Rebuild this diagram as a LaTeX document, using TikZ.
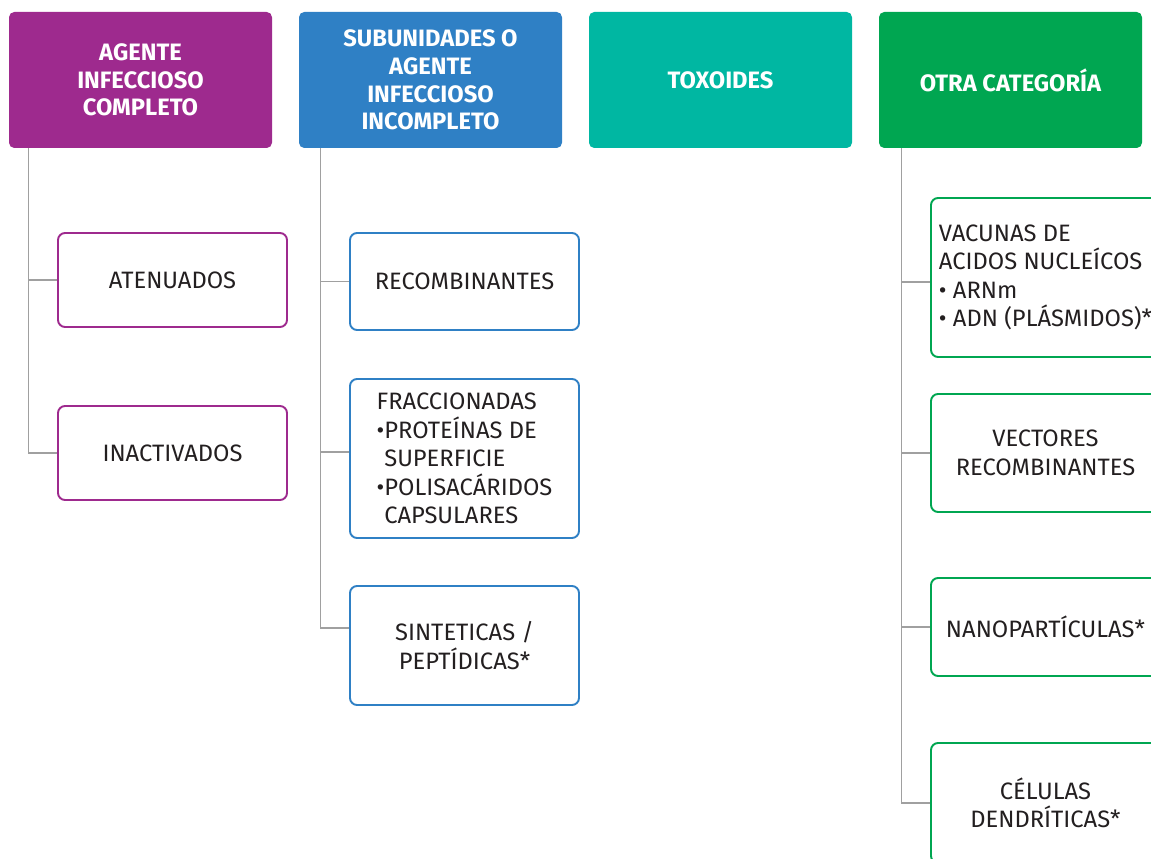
\documentclass[tikz,border=0pt]{standalone}
\usepackage{fontspec}
\setmainfont{Fira Sans}
\usepackage{tikz}
\usetikzlibrary{positioning}

\definecolor{purp}{HTML}{9E2A8E}
\definecolor{blu}{HTML}{2F80C5}
\definecolor{turq}{HTML}{00B7A2}
\definecolor{grn}{HTML}{00A651}
\definecolor{ink}{HTML}{231F20}
\definecolor{linegray}{HTML}{A0A0A0}

\tikzset{
  head/.style={rectangle, rounded corners=3pt, minimum width=5.26cm, minimum height=2.72cm,
    text=white, align=center, font=\fontsize{13.5}{15.7}\selectfont\bfseries},
  leaf/.style={rectangle, draw, line width=1.1pt, rounded corners=4pt, minimum width=4.58cm,
    fill=white, text=ink, align=center, font=\fontsize{13.5}{16.2}\selectfont},
  branch/.style={draw=linegray, line width=0.8pt}
}

\begin{document}
\begin{tikzpicture}[node distance=5.8cm,on grid]
   \useasboundingbox (0,0) rectangle (23.02,-17.18);
   % column heads
   \node[head, fill=purp] (agente)   at (2.81,-1.6) {AGENTE\\INFECCIOSO\\COMPLETO};
   \node[head, fill=blu]  (subunid)  [right=of agente]  {SUBUNIDADES O\\AGENTE\\INFECCIOSO\\INCOMPLETO};
   \node[head, fill=turq] (toxoides) [right=of subunid] {TOXOIDES};
   \node[head, fill=grn]  (otra)     [right=of toxoides] {OTRA CATEGOR\'IA};
   % first column
   \node[leaf, draw=purp, minimum height=1.88cm] (atenuados) [below right=4cm and 0.64cm of agente] {ATENUADOS};
   \node[leaf, draw=purp, minimum height=1.88cm] (inactivados) [below=3.46cm of atenuados] {INACTIVADOS};
   % second column
   \node[leaf, draw=blu, minimum height=1.94cm] (recomb) [below right=4.03cm and 0.68cm of subunid] {RECOMBINANTES};
   \node[leaf, draw=blu, minimum height=3.18cm, align=left] (fracc) [below=3.54cm of recomb]
      {FRACCIONADAS\\•PROTEÍNAS DE\\\phantom{•}SUPERFICIE\\•POLISACÁRIDOS\\\phantom{•}CAPSULARES};
   \node[leaf, draw=blu, minimum height=2.38cm] (sintet) [below=3.74cm of fracc] {SINTETICAS /\\PEPTÍDICAS*};
   % fourth column
   \node[leaf, draw=grn, minimum height=3.18cm, align=left] (acidos) [below right=3.95cm and 0.7cm of otra]
      {VACUNAS DE\\ACIDOS NUCLEÍCOS\\• ARNm\\• ADN (PLÁSMIDOS)*};
   \node[leaf, draw=grn, minimum height=2.36cm] (vectores) [below=3.51cm of acidos] {VECTORES\\RECOMBINANTES};
   \node[leaf, draw=grn, minimum height=1.96cm] (nano) [below=3.48cm of vectores] {NANOPARTÍCULAS*};
   \node[leaf, draw=grn, minimum height=2.4cm] (celulas) [below=3.52cm of nano] {CÉLULAS\\DENDRÍTICAS*};
   % tree lines
   \path[branch]
    ([xshift=0.4cm]agente.south west) |- (atenuados.west)
    ([xshift=0.4cm]agente.south west) |- (inactivados.west)
    ([xshift=0.44cm]subunid.south west) |- (recomb.west)
    ([xshift=0.44cm]subunid.south west) |- ([yshift=0.13cm]fracc.west)
    ([xshift=0.44cm]subunid.south west) |- ([yshift=0.35cm]sintet.west)
    ([xshift=0.46cm]otra.south west) |- ([yshift=-0.09cm]acidos.west)
    ([xshift=0.46cm]otra.south west) |- (vectores.west)
    ([xshift=0.46cm]otra.south west) |- (nano.west)
    ([xshift=0.46cm]otra.south west) |- (celulas.west);
\end{tikzpicture}
\end{document}
